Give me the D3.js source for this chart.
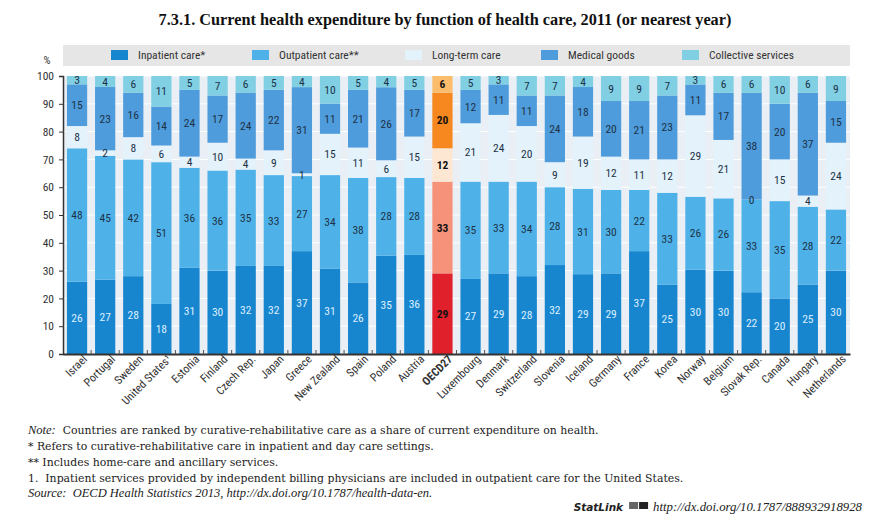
<!DOCTYPE html>
<html><head><meta charset="utf-8">
<script src="https://cdn.jsdelivr.net/npm/d3@7"></script>
<style>
body{margin:0;background:#fff;}
svg{display:block;}
</style></head>
<body>
<svg id="c" width="879" height="520"></svg>
<script>
const countries = ["Israel","Portugal","Sweden","United States¹","Estonia","Finland","Czech Rep.","Japan","Greece","New Zealand","Spain","Poland","Austria","OECD27","Luxembourg","Denmark","Switzerland","Slovenia","Iceland","Germany","France","Korea","Norway","Belgium","Slovak Rep.","Canada","Hungary","Netherlands"];
const inpatient  = [26,27,28,18,31,30,32,32,37,31,26,35,36,29,27,29,28,32,29,29,37,25,30,30,22,20,25,30];
const outpatient = [48,45,42,51,36,36,35,33,27,34,38,28,28,33,35,33,34,28,31,30,22,33,26,26,33,35,28,22];
const longterm   = [8,2,8,6,4,10,4,9,1,15,11,6,15,12,21,24,20,9,19,12,11,12,29,21,0,15,4,24];
const medical    = [15,23,16,14,24,17,24,22,31,11,21,26,17,20,12,11,11,24,18,20,21,23,11,17,38,20,37,15];
const collective = [3,4,6,11,5,7,6,5,4,10,5,4,5,6,5,3,7,7,4,9,9,7,3,6,6,10,6,9];
const seriesNames = ["Inpatient care*","Outpatient care**","Long-term care","Medical goods","Collective services"];
const yTicks = [0,10,20,30,40,50,60,70,80,90,100];
const title = "7.3.1.  Current health expenditure by function of health care, 2011 (or nearest year)";
const notes = [
  [["Note:",true],["  Countries are ranked by curative-rehabilitative care as a share of current expenditure on health.",false]],
  [["* Refers to curative-rehabilitative care in inpatient and day care settings.",false]],
  [["** Includes home-care and ancillary services.",false]],
  [["1.  Inpatient services provided by independent billing physicians are included in outpatient care for the United States.",false]],
  [["Source:  OECD Health Statistics 2013, http://dx.doi.org/10.1787/health-data-en.",true]]
];
const statlink = "http://dx.doi.org/10.1787/888932918928";

const colors = ["#1886cf","#4eb2e9","#e4f2fb","#4f9cdc","#80cfe3"];
const oecdColors = ["#e0202a","#f7927a","#fde6d2","#f7871f","#fbbd6c"];
const highlight = "OECD27";

const seriesVals = [inpatient,outpatient,longterm,medical,collective];
const data = countries.map((c,i)=>{
  const o = {country:c};
  seriesNames.forEach((s,k)=>o[s]=seriesVals[k][i]);
  o.total = d3.sum(seriesVals, v=>v[i]);
  return o;
});

const svg = d3.select("#c");
const condensed = "'Liberation Sans Narrow','Roboto Condensed','DejaVu Sans Condensed','Arial Narrow',sans-serif";
const serif = "'Liberation Serif','DejaVu Serif',serif";
const serifWide = "'DejaVu Serif','Liberation Serif',serif";

const x = d3.scaleBand().domain(countries).range([63,850]).paddingInner(0.28).paddingOuter(0.14);
const y = d3.scaleLinear().domain([0,100]).range([354,76]);

// title
svg.append("text").attr("x",445).attr("y",25).attr("text-anchor","middle")
  .attr("font-family",serif).attr("font-weight","bold").attr("font-size",16.3).attr("fill","#111").text(title);

// legend
svg.append("rect").attr("x",63).attr("y",45).attr("width",787).attr("height",21).attr("fill","#e6e6e6");
const legX = [111,252,405,541,682];
seriesNames.forEach((s,k)=>{
  svg.append("rect").attr("x",legX[k]).attr("y",50).attr("width",17).attr("height",10).attr("fill",colors[k]);
  svg.append("text").attr("x",legX[k]+27).attr("y",59).attr("font-family",condensed).attr("font-size",11.5).attr("fill","#333").text(s);
});

// plot background
svg.append("rect").attr("x",63).attr("y",y(100)).attr("width",787).attr("height",y(0)-y(100)).attr("fill","#e9eff4");
svg.append("g").selectAll("line").data(yTicks.filter(t=>t>0)).join("line")
  .attr("x1",63).attr("x2",850).attr("y1",d=>y(d)).attr("y2",d=>y(d)).attr("stroke","#fff").attr("stroke-width",1);

// stacked bars, normalised to 100%
const stack = d3.stack().keys(seriesNames).value((d,key)=>d[key]/d.total*100);
const stacked = stack(data);
const gBars = svg.append("g");
stacked.forEach((layer,k)=>{
  gBars.append("g").selectAll("rect").data(layer).join("rect")
    .attr("x",d=>x(d.data.country)).attr("width",x.bandwidth())
    .attr("y",d=>y(d[1])).attr("height",d=>Math.max(0,y(d[0])-y(d[1])))
    .attr("fill",d=>d.data.country===highlight?oecdColors[k]:colors[k]);
});
stacked.forEach((layer,k)=>{
  gBars.append("g").selectAll("text").data(layer).join("text")
    .attr("x",d=>x(d.data.country)+x.bandwidth()/2)
    .attr("y",d=>y((d[0]+d[1])/2)+4)
    .attr("text-anchor","middle").attr("font-family",condensed).attr("font-size",11.5)
    .attr("font-weight",d=>d.data.country===highlight?"bold":"normal")
    .attr("fill",d=>d.data.country===highlight?"#111":(k===0?"#dcefff":"#1d3247"))
    .text(d=>d.data[layer.key]);
});

// y axis
const yAxis = svg.append("g").attr("transform","translate(63,0)")
  .call(d3.axisLeft(y).tickValues(yTicks).tickSize(4).tickPadding(5));
yAxis.select(".domain").attr("stroke","#333").attr("stroke-width",1.5);
yAxis.selectAll(".tick line").attr("stroke","#333");
yAxis.selectAll("text").attr("font-family",condensed).attr("font-size",11.5).attr("fill","#333");
svg.append("text").attr("x",47).attr("y",64).attr("text-anchor","middle").attr("font-family",condensed).attr("font-size",11).attr("fill","#333").text("%");

// x axis
const xAxis = svg.append("g").attr("transform",`translate(0,${y(0)})`)
  .call(d3.axisBottom(x).tickSize(0).tickPadding(6));
xAxis.select(".domain").attr("stroke","#333").attr("stroke-width",2);
xAxis.selectAll(".tick text")
  .attr("font-family",condensed).attr("font-size",11.5).attr("fill","#333")
  .attr("font-weight",d=>d===highlight?"bold":"normal")
  .attr("text-anchor","end").attr("dx","0.3em").attr("dy","0.5em")
  .attr("transform","rotate(-45)");
const bounds = countries.slice(1).map(c=>x(c)-x.step()*x.paddingInner()/2);
svg.append("g").selectAll("line").data(bounds).join("line")
  .attr("x1",d=>d).attr("x2",d=>d).attr("y1",y(0)).attr("y2",y(0)-4).attr("stroke","#555").attr("stroke-width",1);

// notes
const noteY = [434,450,466,482,497];
notes.forEach((parts,i)=>{
  const t = svg.append("text").attr("x",28).attr("y",noteY[i]).attr("fill","#222").attr("xml:space","preserve");
  parts.forEach(p=>t.append("tspan")
    .attr("font-family",p[1]?serif:serifWide)
    .attr("font-size",p[1]?12.5:10.9)
    .attr("font-style",p[1]?"italic":"normal").text(p[0]));
});
// statlink
const sl = svg.append("text").attr("x",862).attr("y",511).attr("text-anchor","end").attr("font-family",serif).attr("font-size",12.8).attr("fill","#222").attr("font-style","italic");
sl.text(statlink);
const slW = sl.node().getComputedTextLength();
svg.append("rect").attr("x",862-slW-24).attr("y",502).attr("width",9).attr("height",7).attr("fill","#666");
svg.append("rect").attr("x",862-slW-14).attr("y",502).attr("width",9).attr("height",7).attr("fill","#222");
svg.append("text").attr("x",862-slW-30).attr("y",511).attr("text-anchor","end").attr("font-family","'DejaVu Sans',sans-serif").attr("font-size",10.5).attr("font-weight","bold").attr("font-style","italic").attr("fill","#222").text("StatLink");
</script>
</body></html>
